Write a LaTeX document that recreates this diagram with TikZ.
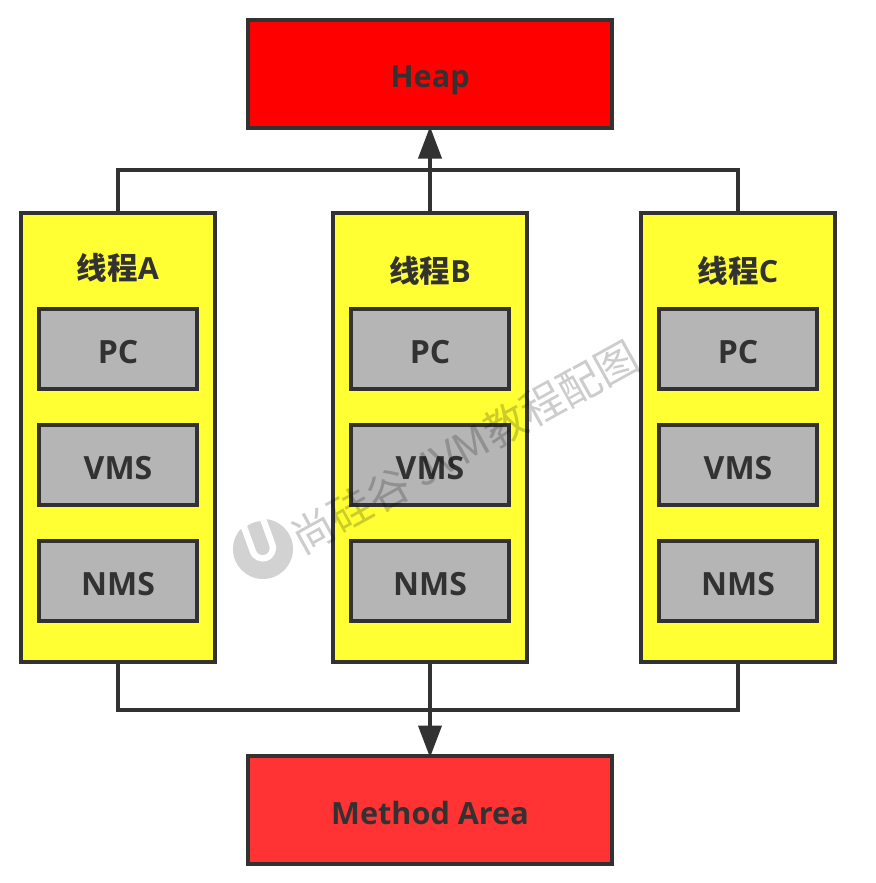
\documentclass[tikz,border=0pt]{standalone}
\usepackage{fontspec}
\setmainfont{Open Sans}
\newfontfamily\cjk{Noto Sans CJK SC}
\usetikzlibrary{arrows.meta}
\definecolor{ink}{HTML}{323232}
\definecolor{hotred}{HTML}{FF0000}
\definecolor{softred}{HTML}{FF3333}
\definecolor{threadfill}{HTML}{FFFF33}
\definecolor{slotfill}{HTML}{B5B5B5}
\definecolor{logogray}{HTML}{D2D2D2}
\tikzset{
  base/.style={draw=ink,line width=4pt,rectangle,outer sep=0pt,inner sep=0pt,text=ink,font=\fontsize{30.6}{34}\selectfont\bfseries,text height=28pt,text depth=0pt},
  area/.style={base,minimum width=364pt,minimum height=108pt},
  thread/.style={base,fill=threadfill,minimum width=194pt,minimum height=449pt},
  slot/.style={base,fill=slotfill,minimum width=158pt,minimum height=80pt,font=\fontsize{32}{36}\selectfont\bfseries},
  title/.style={text=ink,inner sep=0pt,font=\fontsize{30.5}{34}\selectfont\bfseries},
  wire/.style={draw=ink,line width=4pt},
  tip/.style={-{Triangle[length=32pt,width=23pt]},shorten >=-1.5pt}
}
\begin{document}
\begin{tikzpicture}[x=1pt,y=-1pt]
\useasboundingbox (0,0) rectangle (875,883);
\fill[white] (0,0) rectangle (875,883);
\node[area,fill=hotred] (heap) at (430,74) {Heap};
\node[area,fill=softred] (method) at (430,810) {Method Area};
\node[thread] (ta) at (118,437.5) {};
\node[thread] (tb) at (430,437.5) {};
\node[thread] (tc) at (738,437.5) {};
\coordinate (topl) at (118,170);
\coordinate (topr) at (738,170);
\coordinate (botl) at (118,710);
\coordinate (botr) at (738,710);
\draw[wire] (ta.north) -- (topl) -- (topr) -- (tc.north);
\draw[wire,tip] (tb.north) -- (heap.south);
\draw[wire] (ta.south) -- (botl) -- (botr) -- (tc.south);
\draw[wire,tip] (tb.south) -- (method.north);
\node[title] (tta) at (118,267.5) {{\cjk 线程}A};
\node[title] (ttb) at (430,270.5) {{\cjk 线程}B};
\node[title] (ttc) at (738,270.5) {{\cjk 线程}C};
\foreach \n/\x in {a/118,b/430,c/738}{
  \node[slot] (pc\n) at (\x,349) {PC};
  \node[slot] (vms\n) at (\x,465) {VMS};
  \node[slot] (nms\n) at (\x,581) {NMS};
}
% watermark
\fill[logogray] (263,549) circle (30pt);
\begin{scope}[shift={(263,549)},rotate=20]
\fill[white] (-13.5,-40) -- (-13.5,-1) arc[start angle=180,end angle=360,radius=13.5pt] -- (13.5,-40) -- cycle;
\clip (0,0) circle (28pt);
\fill[logogray] (-7,-40) -- (-7,-1) arc[start angle=180,end angle=360,radius=7pt] -- (7,-40) -- cycle;
\end{scope}
\node[rotate=29,text=black,opacity=0.2,inner sep=0pt,font=\fontsize{42.5}{46}\selectfont] (mark) at (465,447) {\cjk 尚硅谷 JVM教程配图};
\end{tikzpicture}
\end{document}
